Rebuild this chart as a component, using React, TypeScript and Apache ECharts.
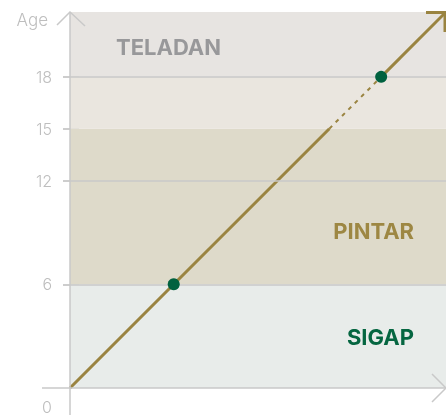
import React, { useEffect, useRef } from "react";
import * as echarts from "echarts";

// ---- data ----
const axisMax = 21.75;
const yTicks = [0, 6, 12, 15, 18];
const gridLineValues = [6, 12, 18];
const bandStarts = [0, 6, 15, 18];
const bandEnds = [6, 15, 18, 21.75];
const bandColors = ["#E8ECEA", "#DEDACA", "#EAE6DF", "#E7E4E1"];
const solidSegment1 = [[0, 0], [15, 15]];
const dashedSegment = [[15, 15], [18, 18]];
const solidSegment2 = [[18, 18], [21.75, 21.75]];
const milestones = [[6, 6], [18, 18]];
const zoneNames = ["SIGAP", "PINTAR", "TELADAN"];
const zoneLabelX = [19.9, 19.9, 2.66];
const zoneLabelY = [2.94, 9.06, 19.73];
const zoneColors = ["#056641", "#9D8743", "#98989A"];
const zoneAlign = ["left", "left", "right"];

const lineColor = "#9A8441";
const axisColor = "#C9C9C9";
const textGray = "#BEBEBE";
const fontFamily = "Inter";

export default function App() {
  const ref = useRef<HTMLDivElement>(null);
  useEffect(() => {
    if (!ref.current) return;
    const chart = echarts.init(ref.current, null, { renderer: "svg" });
    const option: any = {
      animation: false,
      textStyle: { fontFamily },
      grid: { left: 70, right: 0, top: 12, bottom: 26 },
      xAxis: {
        type: "value",
        min: 0,
        max: axisMax,
        axisLine: { show: false },
        axisTick: { show: false },
        axisLabel: { show: false },
        splitLine: { show: false },
      },
      yAxis: [
        {
          type: "value",
          min: 0,
          max: axisMax,
          name: "Age",
          nameLocation: "end",
          nameGap: -8,
          nameTextStyle: {
            color: textGray,
            fontSize: 17,
            fontFamily,
            fontWeight: 300,
            align: "right",
            verticalAlign: "middle",
            padding: [0, 22, 0, 0],
          },
          axisLine: { show: false },
          axisTick: { show: false },
          splitLine: { show: false },
          axisLabel: {
            customValues: yTicks,
            margin: 18,
            color: textGray,
            fontSize: 16,
            fontFamily,
            fontWeight: 300,
            formatter: (v: number) => (v === 0 ? "{z|0}" : String(v)),
            rich: {
              z: { padding: [38, 0, 0, 0], color: textGray, fontSize: 16, fontFamily, fontWeight: 300 },
            },
          },
        },
        {
          type: "value",
          min: 0,
          max: axisMax,
          position: "left",
          offset: -9,
          axisLine: { show: false },
          axisLabel: { show: false },
          splitLine: { show: false },
          axisTick: {
            show: true,
            customValues: yTicks.filter((v) => v !== 0),
            length: 16,
            lineStyle: { color: "#BDBDBD", width: 1.5 },
          },
        },
      ],
      series: [
        {
          type: "line",
          data: solidSegment1,
          symbol: "none",
          clip: false,
          lineStyle: { color: lineColor, width: 3 },
          z: 3,
          markArea: {
            silent: true,
            data: bandStarts.map((s, i) => [
              { yAxis: s, itemStyle: { color: bandColors[i], opacity: 1 } },
              { yAxis: bandEnds[i] },
            ]),
          },
          markLine: {
            silent: true,
            symbol: "none",
            label: { show: false },
            lineStyle: { color: axisColor, width: 1.5, type: "solid" },
            data: gridLineValues.map((v) => ({ yAxis: v })),
          },
        },
        {
          type: "line",
          data: dashedSegment,
          symbol: "none",
          clip: false,
          lineStyle: { color: lineColor, width: 2, type: [4, 5] },
          z: 3,
        },
        {
          type: "line",
          data: solidSegment2,
          symbol: "none",
          clip: false,
          lineStyle: { color: lineColor, width: 3 },
          z: 3,
        },
        {
          type: "scatter",
          data: milestones,
          symbolSize: 12,
          itemStyle: { color: "#00613F", opacity: 1 },
          z: 5,
        },
        {
          type: "scatter",
          symbolSize: 0,
          silent: true,
          z: 4,
          itemStyle: { opacity: 1 },
          data: zoneNames.map((n, i) => ({
            value: [zoneLabelX[i], zoneLabelY[i]],
            name: n,
            label: {
              show: true,
              position: zoneAlign[i],
              distance: 0,
              formatter: "{b}",
              color: zoneColors[i],
              opacity: 1,
              fontSize: 22,
              fontWeight: 700,
              fontFamily,
            },
          })),
        },
      ],
    };
    chart.setOption(option);
    const [ox, oy] = chart.convertToPixel({ gridIndex: 0 }, [0, 0]) as number[];
    const [ex, ey] = chart.convertToPixel({ gridIndex: 0 }, [axisMax, axisMax]) as number[];
    const axisStyle = { stroke: axisColor, lineWidth: 1.5, fill: "none" };
    chart.setOption({
      graphic: [
        { type: "line", shape: { x1: ox, y1: ey, x2: ox, y2: 415 }, style: axisStyle, z: 10 },
        { type: "polyline", shape: { points: [[ox - 13, ey + 13], [ox, ey], [ox + 15, ey + 14]] }, style: axisStyle, z: 10 },
        { type: "line", shape: { x1: 42, y1: oy, x2: ex, y2: oy }, style: axisStyle, z: 10 },
        { type: "polyline", shape: { points: [[ex - 14, oy - 14], [ex, oy], [ex - 14, oy + 14]] }, style: axisStyle, z: 10 },
        {
          type: "polyline",
          shape: { points: [[ex - 20, ey + 0.5], [ex - 1, ey + 0.5], [ex - 1, ey + 20]] },
          style: { stroke: lineColor, lineWidth: 3, fill: "none" },
          z: 11,
        },
      ],
    });
    return () => chart.dispose();
  }, []);
  return (
    <div
      ref={ref}
      style={{ position: "fixed", left: 0, top: 0, width: 446, height: 415 }}
    />
  );
}
